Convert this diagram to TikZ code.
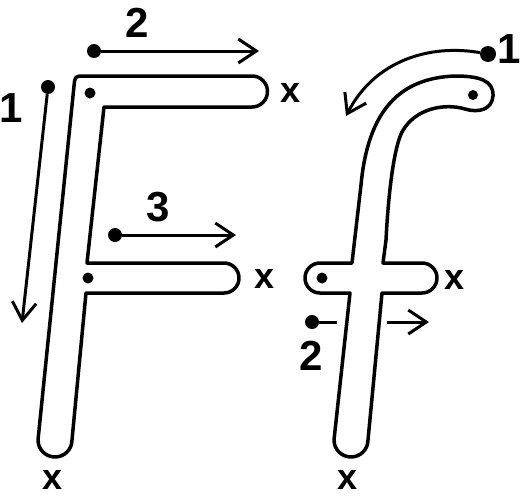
\documentclass[tikz,border=0pt]{standalone}
\usepackage{fontspec}
\setmainfont{Liberation Sans}
\usetikzlibrary{arrows.meta}

\begin{document}
\begin{tikzpicture}[x=1pt,y=-1pt,
    letter/.style={line width=3.5pt,line join=round},
    dot/.style={circle,fill,inner sep=0pt,minimum size=14pt},
    spot/.style={circle,fill,inner sep=0pt,minimum size=11pt},
    arr/.style={-{Straight Barb[length=18pt,width=24pt]},line width=3pt},
    num/.style={font=\fontsize{42}{42}\selectfont\bfseries,inner sep=0pt},
    cross/.style={font=\fontsize{36}{36}\selectfont\bfseries,inner sep=0pt}
]
\useasboundingbox (0,0) rectangle (522,498);

\draw[letter] (72,440) arc[start angle=0,end angle=180,radius=17]
  -- (74,86) .. controls (75,76) .. (85,76) -- (252,76)
  arc[start angle=-90,end angle=90,radius=15.5] -- (104,107) -- (87,263) -- (224,263)
  arc[start angle=-90,end angle=90,radius=15] -- (86,293) -- cycle;

\draw[letter] (368,440) arc[start angle=0,end angle=180,radius=17] -- (350,293) -- (320,293)
  arc[start angle=90,end angle=270,radius=15] -- (352,263) -- (361,185)
  .. controls (368,110) and (400,78) .. (455,76)
  .. controls (478,76) and (494,80) .. (493,96)
  .. controls (492,110) and (478,113) .. (465,109)
  .. controls (445,103) and (415,108) .. (402,132)
  .. controls (393,150) and (388,200) .. (386,240)
  -- (383,263) -- (422,263)
  arc[start angle=-90,end angle=90,radius=15] -- (382,293) -- cycle;

\node[spot] (p1) at (90,93) {};
\node[spot] (p2) at (88,278) {};
\node[spot,minimum size=10pt] (p3) at (473,95) {};
\node[spot] (p4) at (322,278) {};

\node[dot] (s1) at (48,87) {};
\node[dot] (s2) at (94,51) {};
\node[dot] (s3) at (115,235) {};
\node[dot,minimum size=16pt] (s4) at (488,54) {};
\node[dot] (s5) at (312,322) {};
\coordinate (t1) at (22,323);
\coordinate (t2) at (259,51);
\coordinate (t3) at (236,235);
\coordinate (t4) at (346,116);
\coordinate (g1) at (337,322);
\coordinate (g2) at (387,322);
\coordinate (t5) at (429,322);

\draw[arr] (s1) -- (t1);
\draw[arr] (s2) -- (t2);
\draw[arr] (s3) -- (t3);
\draw[arr] (s4) .. controls (430,44) and (375,60) .. (t4);
\draw[line width=3pt] (s5) -- (g1);
\draw[arr] (g2) -- (t5);

\node[num] (n1) at (11,108) {1};
\node[num] (n2) at (137,23) {2};
\node[num] (n3) at (158,207) {3};
\node[num,anchor=west] (n4) at (497,49) {1};
\node[num] (n5) at (311,356) {2};

\node[cross] (x1) at (291,93) {x};
\node[cross] (x2) at (265,279) {x};
\node[cross] (x3) at (53,480) {x};
\node[cross] (x4) at (455,280) {x};
\node[cross] (x5) at (348,480) {x};
\end{tikzpicture}
\end{document}
